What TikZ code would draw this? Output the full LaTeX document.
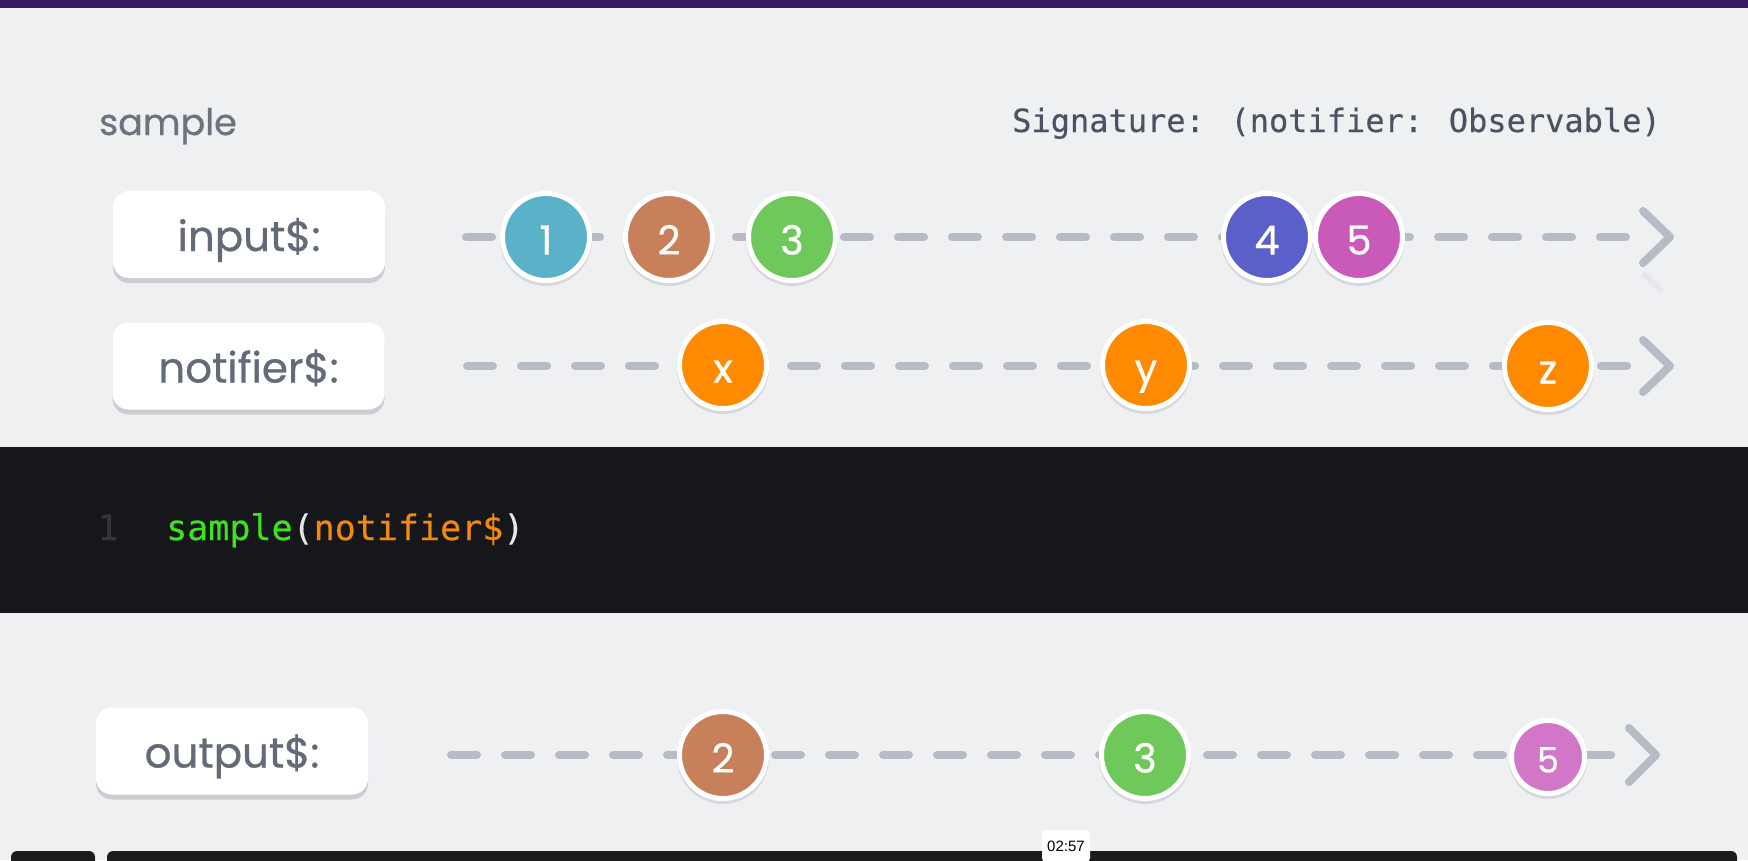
\documentclass[tikz,border=0pt]{standalone}
\usepackage{fontspec}
\newfontfamily\lblfont{Poppins}[FakeBold=0.7]
\newfontfamily\codefont{DejaVu Sans Mono}[FakeBold=0.4]
\newfontfamily\uifont{Liberation Sans}
\usetikzlibrary{calc}
\definecolor{bg}{HTML}{EFF0F2}
\definecolor{topbar}{HTML}{3D1863}
\definecolor{band}{HTML}{16171B}
\definecolor{labelgray}{HTML}{646B78}
\definecolor{titlegray}{HTML}{6B7280}
\definecolor{siggray}{HTML}{4B5262}
\definecolor{dashgray}{HTML}{B8BBC6}
\definecolor{boxshadow}{HTML}{CBCDD3}
\definecolor{ballshadow}{HTML}{D6D8DD}
\definecolor{cone}{HTML}{5AB2C9}
\definecolor{ctwo}{HTML}{C7805A}
\definecolor{cthree}{HTML}{6FC95A}
\definecolor{cfour}{HTML}{5A5FC9}
\definecolor{cfive}{HTML}{C95AB9}
\definecolor{cfivelight}{HTML}{D277C8}
\definecolor{corange}{HTML}{FF8A00}
\definecolor{codegreen}{HTML}{3EE31B}
\definecolor{codeorange}{HTML}{F2890F}
\definecolor{codeparen}{HTML}{E6E6E6}
\definecolor{linenum}{HTML}{34353A}
\definecolor{uibar}{HTML}{1C1C1C}
\begin{document}
\begin{tikzpicture}[x=1pt,y=-1pt,
  labelbox/.style={fill=white, rounded corners=16pt, minimum width=272pt,
    minimum height=87pt, inner sep=0pt, text height=33pt, text depth=0pt,
    font=\lblfont\fontsize{42}{50}\selectfont, text=labelgray,
    preaction={fill=boxshadow, transform canvas={yshift=-5pt}}},
  ball/.style={circle, draw=white, line width=5pt, minimum size=87pt,
    inner sep=0pt, text=white, text height=35pt, text depth=0pt,
    font=\lblfont\fontsize{40}{46}\selectfont,
    preaction={draw=ballshadow, fill=ballshadow, line width=5pt,
      transform canvas={yshift=-3pt}}},
  timeline/.style={draw=dashgray, line width=8pt, line cap=round,
    dash pattern=on 26pt off 28pt},
  chev/.style={draw=dashgray, line width=8pt, line cap=round, line join=round},
  codetext/.style={inner sep=0pt, anchor=base west,
    font=\codefont\fontsize{35}{40}\selectfont}
]
\useasboundingbox (0,0) rectangle (1748,860);
\fill[bg] (0,0) rectangle (1748,860);
\fill[topbar] (0,0) rectangle (1748,8);

% title and signature
\node[anchor=base west, inner sep=0pt, text=titlegray,
  font=\lblfont\fontsize{36.5}{44}\selectfont] (title) at (99,135) {sample};
\node[anchor=base east, inner sep=0pt, text=siggray,
  font=\codefont\fontsize{32}{40}\selectfont] (sig) at (1661,132)
  {Signature: (notifier: Observable)};

% input$ row
\node[labelbox] (inbox) at (249,234.5) {input\$:};
\coordinate (inS) at (466,237);
\coordinate (inE) at (1670,237);
\draw[timeline] (inS) -- ($(inE)+(-30,0)$);
\draw[chev] ($(inE)+(-27,-26)$) -- (inE) -- ($(inE)+(-27,26)$);
\draw[draw=dashgray!35, line width=6pt, line cap=round]
  ($(inE)+(-25,38)$) -- ($(inE)+(-10,53)$);
\node[ball, fill=cone]   (i1) at (546,237)  {1};
\node[ball, fill=ctwo]   (i2) at (669,237)  {2};
\node[ball, fill=cthree] (i3) at (792,237)  {3};
\node[ball, fill=cfour]  (i4) at (1267,237) {4};
\node[ball, fill=cfive]  (i5) at (1359,237) {5};

% notifier$ row
\node[labelbox] (notbox) at (248.5,366) {notifier\$:};
\coordinate (nS) at (467,366);
\coordinate (nE) at (1670,366);
\draw[timeline] (nS) -- ($(nE)+(-30,0)$);
\draw[chev] ($(nE)+(-27,-26)$) -- (nE) -- ($(nE)+(-27,26)$);
\node[ball, fill=corange] (nx) at (723,365)  {x};
\node[ball, fill=corange] (ny) at (1146,365) {y};
\node[ball, fill=corange] (nz) at (1548,366) {z};

% code band
\fill[band] (0,447) rectangle (1748,613);
\node[codetext, anchor=base, text=linenum] (lnum) at (108,540) {1};
\node[codetext] (code) at (166,540)
  {\textcolor{codegreen}{sample}\textcolor{codeparen}{(}\textcolor{codeorange}{notifier\$}\textcolor{codeparen}{)}};

% output$ row
\node[labelbox] (outbox) at (232,751) {output\$:};
\coordinate (oS) at (451,755);
\coordinate (oE) at (1656,755);
\draw[timeline] (oS) -- ($(oE)+(-30,0)$);
\draw[chev] ($(oE)+(-27,-27)$) -- (oE) -- ($(oE)+(-27,27)$);
\node[ball, fill=ctwo]   (o2) at (723,755)  {2};
\node[ball, fill=cthree] (o3) at (1145,755) {3};
\node[ball, fill=cfivelight, minimum size=73pt, text height=31pt,
  font=\lblfont\fontsize{35}{40}\selectfont] (o5) at (1548,757) {5};

% player bar
\fill[uibar, rounded corners=6pt] (11,851) rectangle (95,870);
\fill[uibar, rounded corners=6pt] (107,851) rectangle (1737,870);
\node[fill=white, rounded corners=4pt, minimum width=48pt, minimum height=32pt,
  inner sep=0pt, text height=11pt, text depth=0pt, text=black,
  font=\uifont\fontsize{15}{18}\selectfont] (time) at (1066,846) {02:57};
\end{tikzpicture}
\end{document}
